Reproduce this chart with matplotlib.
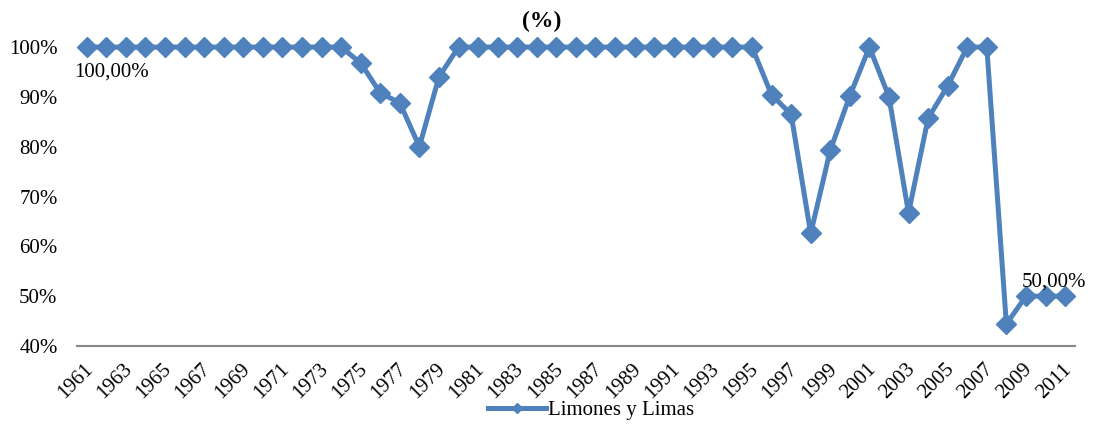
import numpy as np
import matplotlib
matplotlib.use("Agg")
import matplotlib.pyplot as plt
import matplotlib.transforms as mtransforms

# Limones y Limas (%), 1961-2011
years = list(range(1961, 2012))
values = [100.0] * 14 + [96.8, 90.8, 88.8, 80.0, 94.0] + [100.0] * 16 + \
         [90.4, 86.5, 62.6, 79.3, 90.2, 100.0, 90.0, 66.7, 85.7, 92.2, 100.0, 100.0,
          44.4, 50.0, 50.0, 50.0]
series_name = "Limones y Limas"
title = "(%)"

plt.rcParams["font.family"] = ["Liberation Serif", "DejaVu Serif"]
color = "#4F81BD"

fig = plt.figure(figsize=(10.93, 4.24), dpi=100)
ax = fig.add_axes([0.0704, 0.184, 0.913, 0.705])

x = np.arange(len(years))
ax.plot(x, values, color=color, linewidth=3.6, marker="D", markersize=10.5,
        label=series_name, clip_on=False)

ax.set_xlim(-0.5, len(years) - 0.5)
ax.set_ylim(40, 100)
ax.set_yticks(np.arange(40, 101, 10))
ax.set_yticklabels([f"{v}%" for v in range(40, 101, 10)], fontsize=15)
ax.set_xticks(x[::2])
ax.set_xticklabels([str(y) for y in years[::2]], rotation=45, ha="right",
                   rotation_mode="anchor", fontsize=15)
ax.tick_params(axis="y", length=0, pad=14)
ax.tick_params(axis="x", length=0, pad=10)
shift = mtransforms.ScaledTranslation(-3 / 100, 0, fig.dpi_scale_trans)
for lbl in ax.get_xticklabels():
    lbl.set_transform(lbl.get_transform() + shift)

for side in ["top", "right", "left"]:
    ax.spines[side].set_visible(False)
ax.spines["bottom"].set_color("#868686")
ax.spines["bottom"].set_linewidth(1.5)

# data labels
ax.annotate("100,00%", (x[0], values[0]), xytext=(-9, -11), textcoords="offset points",
            ha="left", va="top", fontsize=15)
i2009 = years.index(2009)
ax.annotate("50,00%", (x[i2009], values[i2009]), xytext=(-3, 3), textcoords="offset points",
            ha="left", va="bottom", fontsize=15)

fig.text(0.496, 0.95, title, ha="center", va="center", fontsize=17, fontweight="bold")

fig.legend(loc="center", bbox_to_anchor=(0.541, 0.033), frameon=False, fontsize=15,
           handlelength=2.8, handletextpad=0.1, markerscale=0.5)

fig.savefig("out.png", dpi=100)
